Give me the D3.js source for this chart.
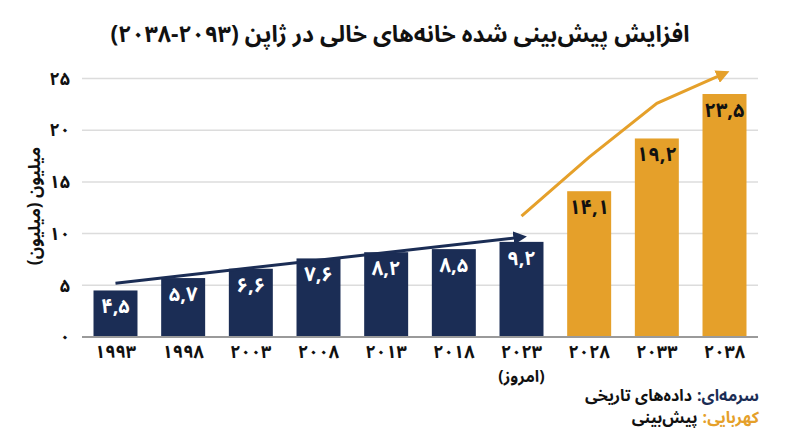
<!DOCTYPE html>
<html><head><meta charset="utf-8">
<script src="https://cdn.jsdelivr.net/npm/d3@7/dist/d3.min.js"></script>
<style>
html,body{margin:0;padding:0;background:#fff;}
text{font-family:"Noto Sans Arabic","Vazirmatn","DejaVu Sans",sans-serif;}
</style></head>
<body><svg id="c" width="800" height="447"></svg>
<script>
const categories = ["۱۹۹۳","۱۹۹۸","۲۰۰۳","۲۰۰۸","۲۰۱۳","۲۰۱۸","۲۰۲۳","۲۰۲۸","۲۰۳۳","۲۰۳۸"];
const values = [4.5, 5.7, 6.6, 7.6, 8.2, 8.5, 9.2, 14.1, 19.2, 23.5];
const valueLabels = ["۴,۵","۵,۷","۶,۶","۷,۶","۸,۲","۸,۵","۹,۲","۱۴,۱","۱۹,۲","۲۳,۵"];
const isForecast = [false,false,false,false,false,false,false,true,true,true];
const yTicks = [0,5,10,15,20,25];
const yTickLabels = ["۰","۵","۱۰","۱۵","۲۰","۲۵"];
const historyTrend = [[0,5.2],[6,9.65]];
const forecastTrend = [[6,11.7],[7,17.4],[8,22.6],[9,25.5]];
const title = "افزایش پیش‌بینی شده خانه‌های خالی در ژاپن (۲۰۹۳-۲۰۳۸)";
const yTitle = "میلیون (میلیون)";
const todayNote = "(امروز)";
const legendKeys = ["سرمه‌ای:\u200F", "کهربایی:\u200F"];
const legendTexts = ["داده‌های تاریخی", "پیش‌بینی"];

const navy = "#1b2d55", amber = "#e5a02a";
const FF = "\"Noto Sans Arabic\",\"DejaVu Sans\",sans-serif";
const svg = d3.select("#c");
const x = d3.scaleBand().domain(d3.range(categories.length)).range([82,758]).paddingInner(0.35).paddingOuter(0.17);
const y = d3.scaleLinear().domain([0,25]).range([337,78.5]);

// title
svg.append("text").attr("x",400).attr("y",42).attr("text-anchor","middle")
  .attr("font-size",23).attr("font-weight","bold").attr("fill","#111").text(title);

// grid
svg.append("g").selectAll("line").data(yTicks.filter(d=>d>0)).join("line")
  .attr("x1",82).attr("x2",758).attr("y1",d=>y(d)).attr("y2",d=>y(d))
  .attr("stroke","#dcdcdc").attr("stroke-width",1.5);

// y axis ticks
const ya = svg.append("g").attr("transform","translate(70,0)")
  .call(d3.axisLeft(y).tickValues(yTicks).tickFormat((d,i)=>yTickLabels[i]).tickSize(0).tickPadding(0));
ya.select(".domain").remove();
ya.selectAll("text").attr("font-size",18).attr("font-weight","bold").attr("fill","#111").attr("font-family",FF);

// y title
svg.append("text").attr("transform","translate(40,206) rotate(-90)").attr("text-anchor","middle")
  .attr("font-size",17).attr("font-weight","bold").attr("fill","#111").text(yTitle);

// bars
svg.append("g").selectAll("rect").data(values).join("rect")
  .attr("x",(d,i)=>x(i)).attr("width",x.bandwidth())
  .attr("y",d=>y(d)).attr("height",d=>y(0)-y(d))
  .attr("fill",(d,i)=>isForecast[i]?amber:navy);

// baseline
svg.append("line").attr("x1",82).attr("x2",758).attr("y1",y(0)).attr("y2",y(0))
  .attr("stroke","#9a9a9a").attr("stroke-width",2);

// value labels
svg.append("g").selectAll("text").data(values).join("text")
  .attr("x",(d,i)=>x(i)+x.bandwidth()/2).attr("y",d=>y(d)+23)
  .attr("text-anchor","middle")
  .attr("font-size",20).attr("font-weight","bold")
  .attr("fill",(d,i)=>isForecast[i]?"#111":"#fff").text((d,i)=>valueLabels[i]);

// x axis labels
const xa = svg.append("g").attr("transform",`translate(0,${y(0)})`)
  .call(d3.axisBottom(x).tickFormat(i=>categories[i]).tickSize(0).tickPadding(8));
xa.select(".domain").remove();
xa.selectAll("text").attr("font-size",18).attr("font-weight","bold").attr("fill","#111").attr("font-family",FF);
svg.append("text").attr("x",x(6)+x.bandwidth()/2).attr("y",382).attr("text-anchor","middle")
  .attr("font-size",16).attr("font-weight","bold").attr("fill","#111").text(todayNote);

// arrows
const defs = svg.append("defs");
function marker(id,color){
  defs.append("marker").attr("id",id).attr("viewBox","0 0 10 10").attr("refX",6).attr("refY",5)
    .attr("markerWidth",4.5).attr("markerHeight",4.5).attr("orient","auto").attr("markerUnits","strokeWidth")
    .append("path").attr("d","M0,0 L10,5 L0,10 z").attr("fill",color);
}
marker("mn",navy); marker("ma",amber);
const line = d3.line().x(d=>x(d[0])+x.bandwidth()/2).y(d=>y(d[1]));
svg.append("path").datum(historyTrend).attr("d",line).attr("fill","none").attr("stroke",navy)
  .attr("stroke-width",3).attr("marker-end","url(#mn)");
svg.append("path").datum(forecastTrend).attr("d",line).attr("fill","none").attr("stroke",amber)
  .attr("stroke-width",3).attr("marker-end","url(#ma)");

// legend
const legendColors = [navy, amber];
legendKeys.forEach((k,i)=>{
  const yy = 401 + i*22;
  const key = svg.append("text").attr("x",759).attr("y",yy).attr("text-anchor","end")
    .attr("font-size",16).attr("font-weight","bold").attr("fill",legendColors[i]).text(k);
  const w = key.node().getComputedTextLength();
  svg.append("text").attr("x",759 - w - 5).attr("y",yy).attr("text-anchor","end")
    .attr("font-size",16).attr("font-weight","bold").attr("fill","#111").text(legendTexts[i]);
});
</script></body></html>
